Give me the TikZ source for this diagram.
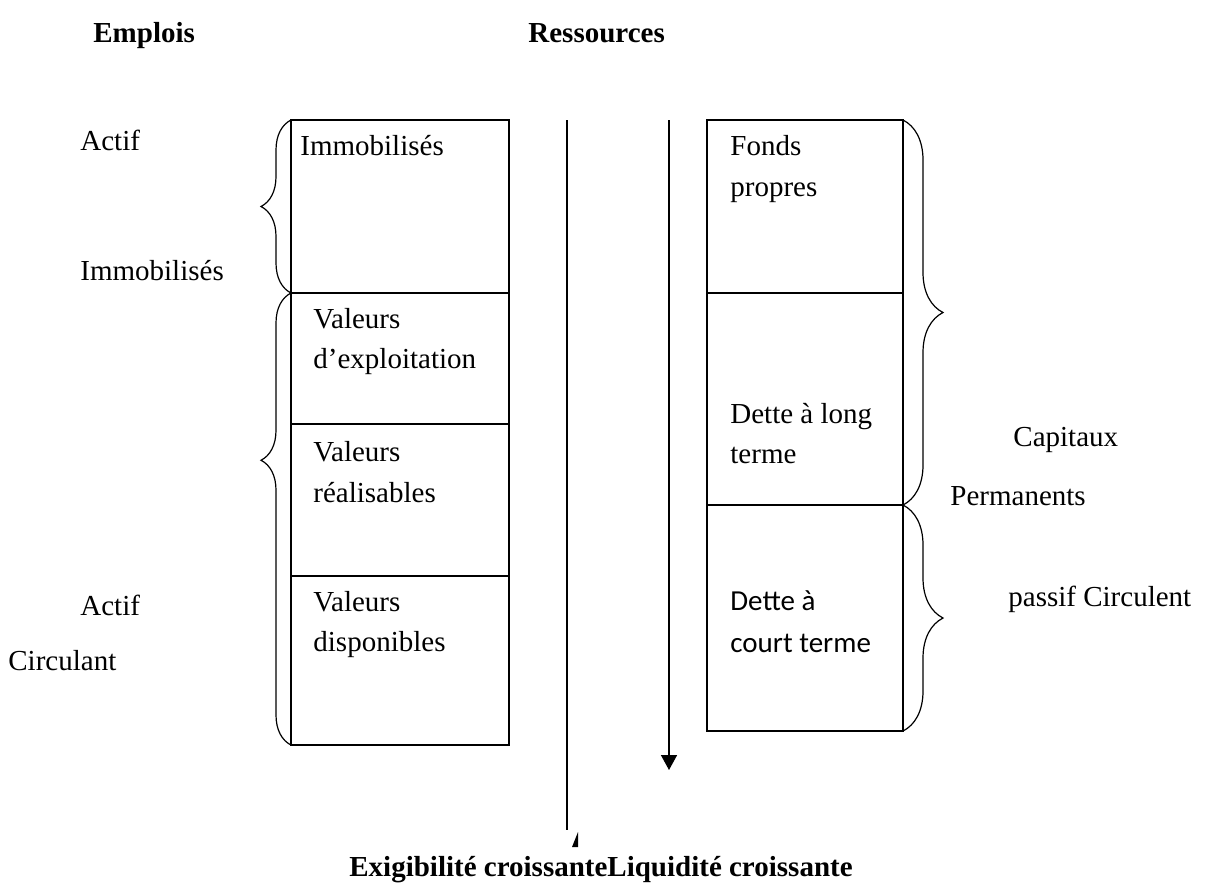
\documentclass[tikz,border=0pt]{standalone}
\usepackage{fontspec}
\setmainfont{Liberation Serif}
\newfontfamily\calibri{Carlito}
\usetikzlibrary{arrows.meta,decorations.pathreplacing}

\begin{document}
\begin{tikzpicture}[x=0.5pt,y=-0.5pt,
    every node/.style={font=\fontsize{14.5}{20}\selectfont, inner sep=0pt},
    txt/.style={anchor=base west},
    titre/.style={anchor=base west, font=\fontsize{14.5}{20}\selectfont\bfseries},
    case/.style={line width=1pt},
    accolade/.style={line width=0.6pt, decorate, decoration={brace, amplitude=#1}}]
    \useasboundingbox (0,0) rectangle (1213,891);

    % titres
    \node [titre] (emplois) at (93,42) {Emplois};
    \node [titre] (ressources) at (528,42) {Ressources};

    % colonne des emplois
    \draw [case] (291,120) rectangle (509,293);
    \draw [case] (291,293) rectangle (509,424);
    \draw [case] (291,424) rectangle (509,576);
    \draw [case] (291,576) rectangle (509,745);
    \node [txt] (immo) at (300,155) {Immobilisés};
    \node [txt] (ve1) at (313,328) {Valeurs};
    \node [txt] (ve2) at (313,368) {d’exploitation};
    \node [txt] (vr1) at (313,461) {Valeurs};
    \node [txt] (vr2) at (313,502) {réalisables};
    \node [txt] (vd1) at (313,611) {Valeurs};
    \node [txt] (vd2) at (313,651) {disponibles};

    % colonne des ressources
    \draw [case] (707,120) rectangle (903,293);
    \draw [case] (707,293) rectangle (903,505);
    \draw [case] (707,505) rectangle (903,731);
    \node [txt] (fp1) at (730,155) {Fonds};
    \node [txt] (fp2) at (730,196) {propres};
    \node [txt] (dlt1) at (730,423) {Dette à long};
    \node [txt] (dlt2) at (730,463) {terme};
    \node [txt, font=\fontsize{14.5}{20}\calibri] (dct1) at (730,610) {Dette à};
    \node [txt, font=\fontsize{14.5}{20}\calibri] (dct2) at (730,652) {court terme};

    % accolades
    \draw [accolade=15pt] (291,293) -- (291,120);
    \draw [accolade=15pt, decoration={aspect=0.63}] (291,745) -- (291,293);
    \draw [accolade=20pt] (903,120) -- (903,505);
    \draw [accolade=20pt] (903,505) -- (903,731);

    \node [txt] (actif1) at (80,150) {Actif};
    \node [txt] (immo2) at (80,280) {Immobilisés};
    \node [txt] (actif2) at (80,615) {Actif};
    \node [txt] (circ) at (8,670) {Circulant};
    \node [txt] (cap1) at (1013,446) {Capitaux};
    \node [txt] (cap2) at (950,505) {Permanents};
    \node [txt] (pc) at (1008,606) {passif Circulent};

    % fleches
    \coordinate (exighaut) at (567,120);
    \coordinate (exigbas) at (567,830);
    \coordinate (liqhaut) at (669,120);
    \coordinate (liqbas) at (669,770);
    \draw [line width=0.8pt] (exighaut) -- (exigbas);
    \fill (572,847) -- (578,832) -- (578,847) -- cycle;
    \draw [line width=0.8pt, -{Triangle[width=8pt,length=7.5pt]}] (liqhaut) -- (liqbas);

    \node [anchor=base, font=\fontsize{14.5}{20}\selectfont\bfseries] (bas) at (601,876)
        {Exigibilité croissanteLiquidité croissante};
\end{tikzpicture}
\end{document}
